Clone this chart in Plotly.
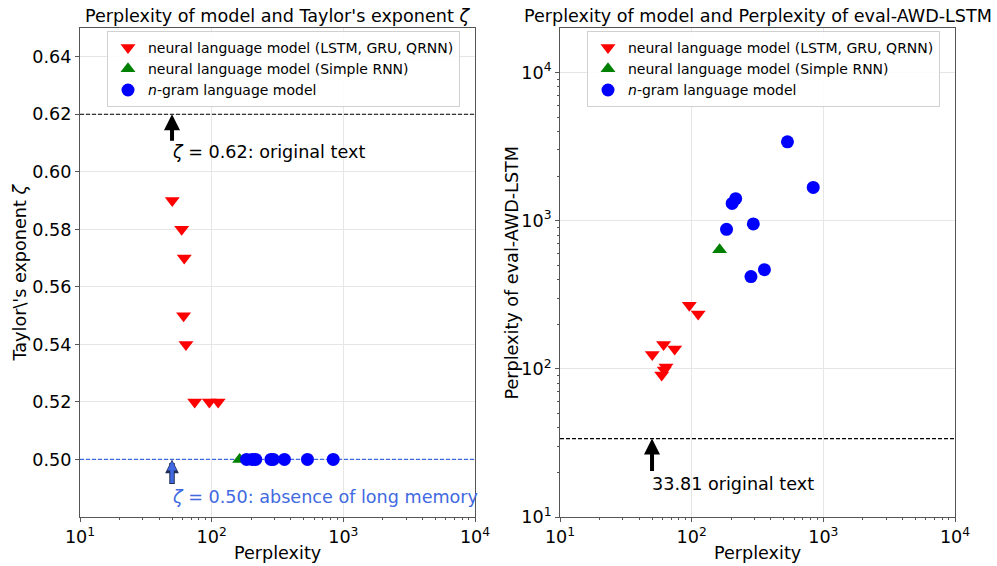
import numpy as np
import plotly.graph_objects as go

# ---------------- data ----------------
neural_ppl = [50.2, 59.2, 61.9, 61.2, 63.8, 74.3, 96, 112]
neural_taylor = [0.59, 0.58, 0.57, 0.55, 0.54, 0.52, 0.52, 0.52]
neural_eval = [125, 91, 98, 146, 103, 136, 269, 234]

simple_ppl = [163]
simple_taylor = [0.50]
simple_eval = [635]

ngram_ppl = [184, 203, 216, 282, 294, 357, 534, 838]
ngram_taylor = [0.50, 0.50, 0.50, 0.50, 0.50, 0.50, 0.50, 0.50]
ngram_eval = [874, 1307, 1406, 419, 950, 467, 3405, 1675]

orig_taylor = 0.62
random_taylor = 0.50
orig_eval_ppl = 33.81
arrow_ppl = 50

names = ["neural language model (LSTM, GRU, QRNN)",
         "neural language model (Simple RNN)",
         "<i>n</i>-gram language model"]

decade_vals = [10, 100, 1000, 10000]
decade_text = ["10<sup>1</sup>", "10<sup>2</sup>", "10<sup>3</sup>", "10<sup>4</sup>"]
taylor_ticks = [0.50, 0.52, 0.54, 0.56, 0.58, 0.60, 0.62, 0.64]

FONT = "DejaVu Sans"
FS = 17.6
W, H = 997, 566

def px_x(p):
    return p / W

def px_y(p):
    return 1 - p / H

fig = go.Figure()

styles = [("triangle-down", "red"), ("triangle-up", "green"), ("circle", "blue")]
left_sets = [(neural_ppl, neural_taylor), (simple_ppl, simple_taylor), (ngram_ppl, ngram_taylor)]
right_sets = [(neural_ppl, neural_eval), (simple_ppl, simple_eval), (ngram_ppl, ngram_eval)]

DASH = "4px,2px"
# reference lines (drawn first)
fig.add_trace(go.Scatter(x=[10, 10000], y=[orig_taylor] * 2, mode="lines",
                         line=dict(color="black", width=1.1, dash=DASH),
                         xaxis="x", yaxis="y", showlegend=False, hoverinfo="skip"))
fig.add_trace(go.Scatter(x=[10, 10000], y=[random_taylor] * 2, mode="lines",
                         line=dict(color="#4169e1", width=1.3, dash=DASH),
                         xaxis="x", yaxis="y", showlegend=False, hoverinfo="skip"))
fig.add_trace(go.Scatter(x=[10, 10000], y=[orig_eval_ppl] * 2, mode="lines",
                         line=dict(color="black", width=1.1, dash=DASH),
                         xaxis="x2", yaxis="y2", showlegend=False, hoverinfo="skip"))

for (sym, col), name, (xs, ys) in zip(styles, names, left_sets):
    fig.add_trace(go.Scatter(x=xs, y=ys, mode="markers", name=name,
                             marker=dict(symbol=sym, color=col, size=13, line=dict(width=0)),
                             xaxis="x", yaxis="y", legend="legend"))
for (sym, col), name, (xs, ys) in zip(styles, names, right_sets):
    fig.add_trace(go.Scatter(x=xs, y=ys, mode="markers", name=name,
                             marker=dict(symbol=sym, color=col, size=13, line=dict(width=0)),
                             xaxis="x2", yaxis="y2", legend="legend2"))

minor_vals = [m * 10 ** e for e in range(1, 4) for m in range(2, 10)]
minor_vals_y2 = [m * 10 ** e for e in range(1, 5) for m in range(2, 10)]

axis_common = dict(showline=True, linecolor="#555", linewidth=1, mirror=True,
                   ticks="outside", ticklen=4, tickcolor="#555", automargin=False,
                   showgrid=True, gridcolor="#e6e6e6", gridwidth=1, zeroline=False,
                   tickfont=dict(family=FONT, size=FS, color="black"))
minor_x = dict(tickmode="array", tickvals=minor_vals, ticks="outside",
               ticklen=2, tickcolor="#555", showgrid=False)
minor_y2 = dict(tickmode="array", tickvals=minor_vals_y2, ticks="outside",
                ticklen=2, tickcolor="#555", showgrid=False)

xdom1 = [px_x(80), px_x(475)]
xdom2 = [px_x(560), px_x(955)]
ydom = [px_y(517), px_y(28)]

fig.update_layout(
    width=W, height=H, margin=dict(l=0, r=0, t=0, b=0),
    paper_bgcolor="white", plot_bgcolor="white",
    font=dict(family=FONT, color="black"),
    xaxis=dict(type="log", domain=xdom1, range=[1, 4], anchor="y",
               tickmode="array", tickvals=decade_vals, ticktext=decade_text,
               minor=minor_x, **axis_common),
    yaxis=dict(domain=ydom, range=[0.48, 0.65], anchor="x",
               tickmode="array", tickvals=taylor_ticks, tickformat=".2f",
               **axis_common),
    xaxis2=dict(type="log", domain=xdom2, range=[1, 4], anchor="y2",
                tickmode="array", tickvals=decade_vals, ticktext=decade_text,
                minor=minor_x, **axis_common),
    yaxis2=dict(type="log", domain=ydom, range=[1, 4.3], anchor="x2",
                tickmode="array", tickvals=decade_vals, ticktext=decade_text,
                minor=minor_y2, **axis_common),
    legend=dict(x=px_x(107), y=px_y(31), xanchor="left", yanchor="top",
                bgcolor="rgba(255,255,255,0.85)", bordercolor="#d0d0d0", borderwidth=1,
                font=dict(family=FONT, size=14), tracegroupgap=0),
    legend2=dict(x=px_x(587), y=px_y(31), xanchor="left", yanchor="top",
                 bgcolor="rgba(255,255,255,0.85)", bordercolor="#d0d0d0", borderwidth=1,
                 font=dict(family=FONT, size=14), tracegroupgap=0),
)

lx = float(np.log10(arrow_ppl))
ann = []
# titles
ann.append(dict(text="Perplexity of model and Taylor's exponent <i>ζ</i>", xref="paper", yref="paper",
                x=(xdom1[0] + xdom1[1]) / 2, y=px_y(16), xanchor="center", yanchor="middle",
                showarrow=False, font=dict(size=FS)))
ann.append(dict(text="Perplexity of model and Perplexity of eval-AWD-LSTM", xref="paper", yref="paper",
                x=(xdom2[0] + xdom2[1]) / 2, y=px_y(16), xanchor="center", yanchor="middle",
                showarrow=False, font=dict(size=FS)))
# axis titles
for xd in (xdom1, xdom2):
    ann.append(dict(text="Perplexity", xref="paper", yref="paper",
                    x=(xd[0] + xd[1]) / 2, y=px_y(553), xanchor="center", yanchor="middle",
                    showarrow=False, font=dict(size=FS)))
ann.append(dict(text="Taylor\\'s exponent <i>ζ</i>", xref="paper", yref="paper", textangle=-90,
                x=px_x(19), y=(ydom[0] + ydom[1]) / 2, xanchor="center", yanchor="middle",
                showarrow=False, font=dict(size=FS)))
ann.append(dict(text="Perplexity of eval-AWD-LSTM", xref="paper", yref="paper", textangle=-90,
                x=px_x(511), y=(ydom[0] + ydom[1]) / 2, xanchor="center", yanchor="middle",
                showarrow=False, font=dict(size=FS)))
# left black arrow + text
ann.append(dict(x=lx, y=orig_taylor, xref="x", yref="y", ax=0, ay=28, text="",
                showarrow=True, arrowhead=2, arrowsize=0.8, arrowwidth=4, arrowcolor="black"))
ann.append(dict(x=lx, y=orig_taylor, xref="x", yref="y", yshift=-38, xshift=-2,
                text="<i>ζ</i> = 0.62: original text", showarrow=False,
                xanchor="left", yanchor="middle", font=dict(size=FS, color="black")))
# left blue arrow (dark outline + royal blue fill) + text
ann.append(dict(x=lx, y=random_taylor, xref="x", yref="y", ax=0, ay=26, text="",
                showarrow=True, arrowhead=2, arrowsize=0.5, arrowwidth=5.5, arrowcolor="#1f2d55"))
ann.append(dict(x=lx, y=random_taylor, xref="x", yref="y", ax=0, ay=25, text="", standoff=1.5,
                showarrow=True, arrowhead=2, arrowsize=0.55, arrowwidth=3.5, arrowcolor="#4169e1"))
ann.append(dict(x=lx, y=random_taylor, xref="x", yref="y", yshift=-38, xshift=-2,
                text="<i>ζ</i> = 0.50: absence of long memory", showarrow=False,
                xanchor="left", yanchor="middle", font=dict(size=FS, color="royalblue")))
# right black arrow + text
ann.append(dict(x=lx, y=float(np.log10(orig_eval_ppl)), xref="x2", yref="y2", ax=0, ay=34, text="",
                showarrow=True, arrowhead=2, arrowsize=0.8, arrowwidth=4, arrowcolor="black"))
ann.append(dict(x=lx, y=float(np.log10(orig_eval_ppl)), xref="x2", yref="y2", yshift=-45, xshift=-2,
                text="33.81 original text", showarrow=False,
                xanchor="left", yanchor="middle", font=dict(size=FS, color="black")))
fig.update_layout(annotations=ann)

fig.write_html("out.html", config={"displayModeBar": False},
               post_script="document.body.style.margin='0';document.body.style.overflow='hidden';")
